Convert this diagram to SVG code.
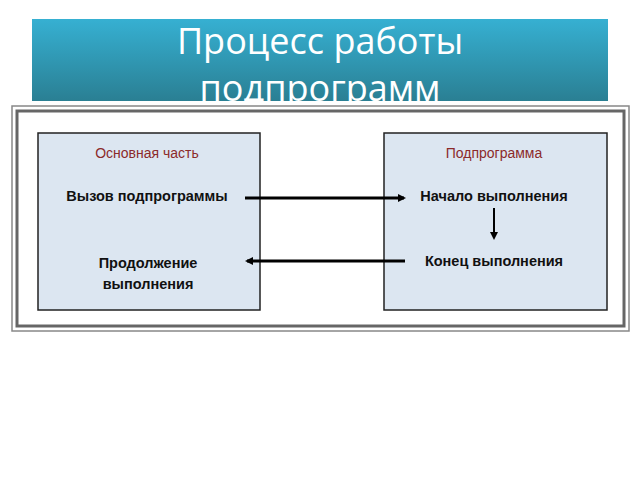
<svg xmlns="http://www.w3.org/2000/svg" width="640" height="480" viewBox="0 0 640 480">
<defs>
<linearGradient id="tg" x1="0" y1="0" x2="0" y2="1"><stop offset="0" stop-color="#36b0d2"/><stop offset="1" stop-color="#2a7f93"/></linearGradient>
<marker id="ah" markerWidth="8" markerHeight="8" refX="6" refY="4" orient="auto" markerUnits="userSpaceOnUse"><path d="M0,0 L8,4 L0,8 z" fill="#000"/></marker>
<clipPath id="tc"><rect x="32" y="19" width="576" height="82"/></clipPath>
</defs>
<style>
.box{fill:#dce6f1;stroke:#222;stroke-width:1.5}
.h{font-family:"Liberation Sans Narrow","Liberation Sans",Arial,sans-serif;font-size:14px;fill:#8b2a2a;text-anchor:middle}
.t{font-family:"Liberation Sans Narrow","Liberation Sans",Arial,sans-serif;font-size:14.5px;font-weight:bold;fill:#111;text-anchor:middle}
.c{stroke:#000;stroke-width:3;fill:none;marker-end:url(#ah)}
</style>
<rect width="640" height="480" fill="#fff"/>
<g id="title">
<rect x="32" y="19" width="576" height="82" fill="url(#tg)"/>
<g clip-path="url(#tc)" font-family="'Open Sans','DejaVu Sans',sans-serif" font-size="36" fill="#fff" text-anchor="middle">
<text x="320" y="54">Процесс работы</text>
<text x="320" y="101">подпрограмм</text>
</g>
</g>
<g id="frame">
<rect x="12" y="106" width="617" height="225" fill="#fff" stroke="#888" stroke-width="1.5"/>
<rect x="17" y="111" width="607" height="215" fill="#fff" stroke="#666" stroke-width="3"/>
</g>
<g id="main">
<rect class="box" x="38" y="133" width="222" height="177"/>
<text class="h" x="147" y="158">Основная часть</text>
<text class="t" x="147" y="201">Вызов подпрограммы</text>
<text class="t" x="148" y="268">Продолжение</text>
<text class="t" x="148" y="289">выполнения</text>
</g>
<g id="sub">
<rect class="box" x="384" y="133" width="223" height="177"/>
<text class="h" x="494" y="158">Подпрограмма</text>
<text class="t" x="494" y="201">Начало выполнения</text>
<text class="t" x="494" y="266">Конец выполнения</text>
</g>
<g id="connectors">
<path class="c" d="M245,198 H404"/>
<path class="c" d="M405,261 H247"/>
<line x1="494" y1="208" x2="494" y2="238" stroke="#000" stroke-width="2" marker-end="url(#ah)"/>
</g>
</svg>
